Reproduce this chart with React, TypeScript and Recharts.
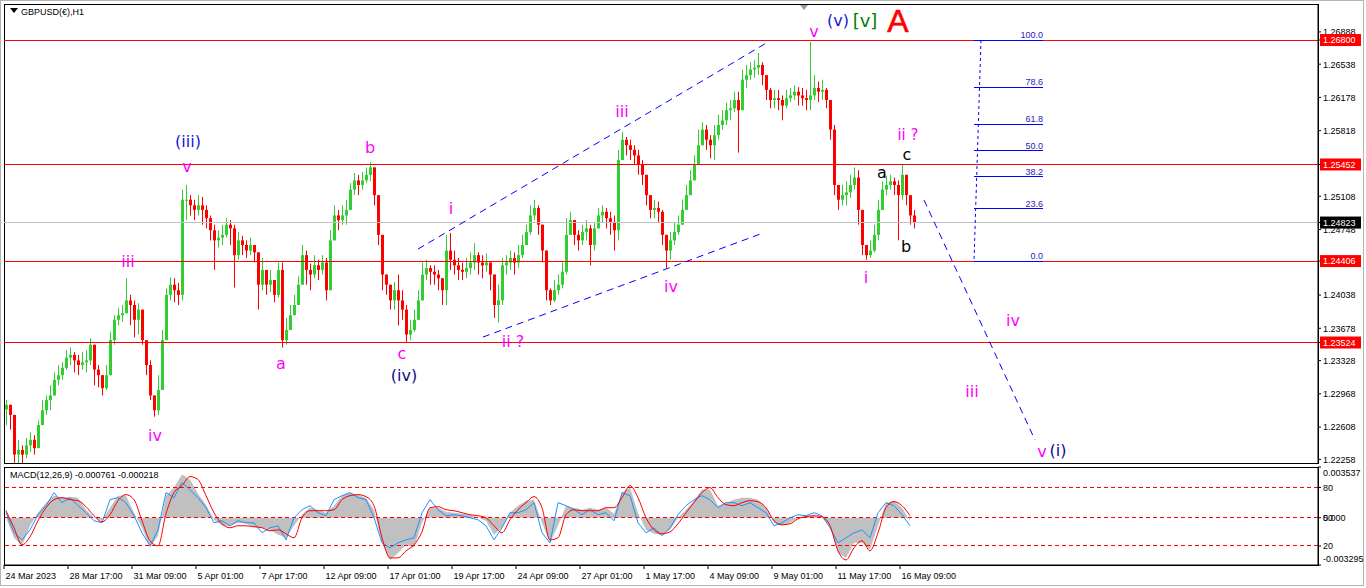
import React from "react";
import {
  Area,
  Bar,
  ComposedChart,
  Line,
  ReferenceArea,
  ReferenceDot,
  ReferenceLine,
  XAxis,
  YAxis,
} from "recharts";

const W = 1366;
const MAIN_H = 466;
const MACD_H = 122;
const AXIS_W = 48;
const SPAN = 1314; // hours shown across the plot (1 px per H1 bar)
const BAR_HOURS = 4; // each drawn candle groups 4 H1 bars
const MACD_STEP = 8;

const FONT = "'Liberation Sans', Arial, sans-serif";
const WAVE_FONT = "'DejaVu Sans', Verdana, sans-serif";
const BULL = "#32cd32";
const BEAR = "#ff0000";
const MAGENTA = "#ff00ff";
const BLUE = "#1818d0";
const NAVY = "#0c0c8c";
const FIB_BLUE = "#1c1cc0";

const PRICE_MIN = 1.22219;
const PRICE_MAX = 1.2719;

const FIRST_OPEN = 1.228;
const closes = [
  1.2285, 1.2274, 1.2231, 1.2236, 1.2231, 1.2241, 1.2247, 1.2238, 1.2263, 1.2279,
  1.229, 1.2295, 1.2312, 1.2317, 1.2325, 1.2336, 1.2339, 1.2333, 1.2328, 1.2331,
  1.2333, 1.235, 1.2323, 1.2317, 1.2303, 1.2317, 1.2355, 1.2377, 1.2382, 1.2384,
  1.2398, 1.2393, 1.2377, 1.2388, 1.2355, 1.2328, 1.2295, 1.2279, 1.2301, 1.2355,
  1.2404, 1.2415, 1.2409, 1.2404, 1.2507, 1.2507, 1.2501, 1.2496, 1.2501, 1.2496,
  1.2487, 1.2474, 1.2463, 1.2466, 1.2469, 1.248, 1.2476, 1.2447, 1.2463, 1.2458,
  1.2452, 1.2458, 1.245, 1.2415, 1.2431, 1.2415, 1.242, 1.2404, 1.2431, 1.2355,
  1.2366, 1.2382, 1.2393, 1.2415, 1.2447, 1.2431, 1.2426, 1.2436, 1.2431, 1.2439,
  1.2409, 1.2463, 1.249, 1.2485, 1.249, 1.2496, 1.2518, 1.2528, 1.2523, 1.2528,
  1.2534, 1.2542, 1.2512, 1.2469, 1.2426, 1.2415, 1.2398, 1.2409, 1.2398, 1.2388,
  1.2361, 1.2366, 1.2377, 1.2398, 1.2426, 1.2433, 1.2429, 1.2426, 1.2422, 1.2409,
  1.2452, 1.2442, 1.2436, 1.2431, 1.2429, 1.2433, 1.2439, 1.2447, 1.2439, 1.2436,
  1.2439, 1.2426, 1.2393, 1.2398, 1.2436, 1.2439, 1.2444, 1.2439, 1.2447, 1.2458,
  1.2472, 1.249, 1.2498, 1.248, 1.2452, 1.2409, 1.2398, 1.2409, 1.2415, 1.2429,
  1.2469, 1.2485, 1.2469, 1.2463, 1.2472, 1.2476, 1.2458, 1.2476, 1.249, 1.2494,
  1.2487, 1.2483, 1.2474, 1.255, 1.2572, 1.2566, 1.2561, 1.2555, 1.2545, 1.2534,
  1.2512, 1.2496, 1.2498, 1.2494, 1.2469, 1.2452, 1.2463, 1.2472, 1.248, 1.2496,
  1.2512, 1.2528, 1.2545, 1.2566, 1.2583, 1.2572, 1.2566, 1.2577, 1.2588, 1.2593,
  1.2604, 1.2606, 1.2615, 1.2604, 1.2637, 1.2642, 1.2648, 1.265, 1.2653, 1.2642,
  1.2626, 1.2615, 1.2617, 1.2615, 1.2609, 1.2617, 1.262, 1.2624, 1.262, 1.2617,
  1.2615, 1.262, 1.2628, 1.2624, 1.2626, 1.2615, 1.2583, 1.2523, 1.2507, 1.2512,
  1.2515, 1.2523, 1.2531, 1.2496, 1.2458, 1.2447, 1.2452, 1.2469, 1.2496, 1.2518,
  1.2523, 1.2527, 1.2523, 1.2512, 1.2534, 1.2512, 1.249, 1.2482,
];
const highs = [
  1.229, 1.2279, 1.2274, 1.2247, 1.2241, 1.2249, 1.2255, 1.2252, 1.2268, 1.229,
  1.2295, 1.2306, 1.232, 1.2328, 1.2331, 1.2344, 1.2347, 1.2342, 1.2339, 1.2342,
  1.2344, 1.2357, 1.235, 1.2328, 1.2314, 1.2328, 1.2364, 1.2382, 1.239, 1.2393,
  1.2422, 1.2404, 1.2398, 1.2395, 1.2382, 1.2355, 1.2333, 1.2295, 1.2317, 1.2366,
  1.2411, 1.2423, 1.2422, 1.2417, 1.2518, 1.2523, 1.2512, 1.2507, 1.2512, 1.251,
  1.2501, 1.249, 1.248, 1.2474, 1.248, 1.2487, 1.2485, 1.248, 1.2472, 1.2468,
  1.2463, 1.2466, 1.2458, 1.2447, 1.2444, 1.2431, 1.2431, 1.2415, 1.2439, 1.2439,
  1.2379, 1.2393, 1.2404, 1.2424, 1.2458, 1.2452, 1.2438, 1.2447, 1.2442, 1.2447,
  1.2444, 1.2474, 1.2501, 1.2496, 1.2501, 1.2507, 1.2525, 1.2536, 1.2534, 1.2537,
  1.2542, 1.2548, 1.2539, 1.2512, 1.2469, 1.2422, 1.2415, 1.2418, 1.2426, 1.2409,
  1.2393, 1.2377, 1.2388, 1.2409, 1.2439, 1.2442, 1.2436, 1.2436, 1.2431, 1.242,
  1.2469, 1.2471, 1.2452, 1.2444, 1.2439, 1.2444, 1.245, 1.246, 1.245, 1.2447,
  1.2449, 1.2439, 1.2415, 1.2415, 1.2444, 1.2447, 1.2452, 1.245, 1.2458, 1.2469,
  1.248, 1.2501, 1.2507, 1.2501, 1.248, 1.2447, 1.2411, 1.242, 1.2426, 1.2439,
  1.2487, 1.2494, 1.2483, 1.2474, 1.248, 1.2485, 1.248, 1.2483, 1.2498, 1.2501,
  1.2498, 1.2494, 1.249, 1.2561, 1.258, 1.2575, 1.2572, 1.2566, 1.2561, 1.255,
  1.2528, 1.2512, 1.2507, 1.2505, 1.2496, 1.2469, 1.2472, 1.2483, 1.249, 1.2507,
  1.2523, 1.2539, 1.2555, 1.2583, 1.2591, 1.2588, 1.2577, 1.2588, 1.2599, 1.2604,
  1.2612, 1.2615, 1.2624, 1.2624, 1.2648, 1.2653, 1.2656, 1.2658, 1.2666, 1.2656,
  1.2639, 1.2628, 1.2626, 1.2626, 1.262, 1.2626, 1.2628, 1.2631, 1.2629, 1.2628,
  1.2626, 1.2678, 1.2642, 1.2635, 1.2637, 1.2628, 1.2615, 1.2588, 1.2523, 1.2523,
  1.2527, 1.2534, 1.2542, 1.2539, 1.249, 1.2458, 1.2463, 1.248, 1.2507, 1.2527,
  1.2533, 1.2534, 1.2531, 1.2528, 1.2545, 1.2534, 1.2512, 1.2496,
];
const lows = [
  1.2263, 1.2258, 1.2222, 1.2222, 1.2222, 1.2227, 1.2234, 1.2231, 1.2241, 1.2263,
  1.2274, 1.2279, 1.2295, 1.2306, 1.2312, 1.2323, 1.2328, 1.232, 1.2317, 1.2323,
  1.232, 1.2328, 1.2306, 1.2304, 1.2295, 1.2301, 1.2317, 1.235, 1.2371, 1.2375,
  1.2388, 1.2371, 1.2358, 1.2361, 1.235, 1.2317, 1.229, 1.2272, 1.2274, 1.2301,
  1.2355, 1.2398, 1.2396, 1.2393, 1.2398, 1.2485, 1.249, 1.2485, 1.249, 1.248,
  1.2476, 1.2463, 1.2431, 1.2455, 1.2458, 1.2466, 1.2458, 1.2412, 1.2442, 1.2447,
  1.2444, 1.2447, 1.2439, 1.2388, 1.2409, 1.2404, 1.2407, 1.2396, 1.2401, 1.2347,
  1.235, 1.2366, 1.2382, 1.2393, 1.2415, 1.2415, 1.2409, 1.2422, 1.242, 1.2426,
  1.2398, 1.242, 1.2463, 1.2474, 1.248, 1.248, 1.2496, 1.2512, 1.2512, 1.2518,
  1.2525, 1.2527, 1.2501, 1.2458, 1.2409, 1.2404, 1.2388, 1.2388, 1.2371, 1.2377,
  1.2353, 1.2355, 1.2364, 1.2382, 1.2404, 1.242, 1.2415, 1.2415, 1.2409, 1.2393,
  1.2393, 1.2431, 1.2426, 1.242, 1.242, 1.2422, 1.2426, 1.2431, 1.2426, 1.2422,
  1.2429, 1.2409, 1.2379, 1.2374, 1.2393, 1.2426, 1.2431, 1.2426, 1.2433, 1.2444,
  1.2458, 1.2469, 1.2485, 1.2469, 1.2439, 1.2398, 1.2393, 1.2396, 1.2404, 1.2411,
  1.2426, 1.2469, 1.2458, 1.2452, 1.2458, 1.2463, 1.2436, 1.2452, 1.2476, 1.2483,
  1.2476, 1.2469, 1.2452, 1.2463, 1.255, 1.2555, 1.255, 1.2545, 1.2534, 1.2523,
  1.2501, 1.2487, 1.2487, 1.2483, 1.2458, 1.2433, 1.2442, 1.2458, 1.2469, 1.2483,
  1.2496, 1.2512, 1.2528, 1.2545, 1.2566, 1.2561, 1.2552, 1.255, 1.2572, 1.2583,
  1.2588, 1.2593, 1.2602, 1.2558, 1.2609, 1.2628, 1.2637, 1.2639, 1.2642, 1.2631,
  1.2615, 1.2606, 1.2606, 1.2604, 1.2593, 1.2606, 1.2613, 1.2615, 1.2609, 1.2609,
  1.2604, 1.2604, 1.2615, 1.2613, 1.2615, 1.2606, 1.2572, 1.2512, 1.2496, 1.2501,
  1.2501, 1.2509, 1.2518, 1.248, 1.2447, 1.2442, 1.2444, 1.245, 1.2463, 1.2496,
  1.2512, 1.2518, 1.2512, 1.2463, 1.2507, 1.2501, 1.248, 1.2476,
];

// MACD values in points (1 point = 0.00001)
const macdHist = [
  0, -140, -196, -56, 35, 105, 154, 140, 147, 140,
  56, 0, -21, 70, 154, 154, 35, -70, -210, -126,
  154, 210, 301, 266, 168, 91, -14, -56, -56, -35,
  -42, -63, -70, -84, -119, -140, -56, 21, 70, 56,
  35, 84, 154, 175, 161, 140, 56, -175, -294, -245,
  -189, -210, -35, 70, 70, 42, 35, 28, 21, 0,
  -21, -119, -70, 35, 84, 119, 126, -35, -175, -56,
  84, 70, 56, 70, 56, 70, 28, 175, 210, 35,
  -84, -112, -119, -84, 0, 56, 119, 196, 196, 84,
  105, 126, 140, 140, 126, 70, -35, -56, -35, 0,
  14, 14, 0, -56, -245, -280, -175, -175, -224, -56,
  105, 119, 70, -21,
];
const macdSignal = [
  49, -70, -189, -133, -21, 70, 126, 140, 126, 119,
  77, 14, -28, 21, 119, 161, 126, -21, -161, -196,
  28, 175, 224, 287, 266, 154, 35, -42, -70, -56,
  -56, -63, -70, -91, -84, -112, -140, 0, 49, 49,
  49, 56, 126, 154, 161, 147, 84, -140, -280, -280,
  -231, -189, -98, 70, 77, 56, 49, 35, 21, 14,
  0, -56, -105, -14, 56, 105, 147, 70, -154, -140,
  21, 56, 49, 49, 49, 70, 70, 140, 224, 140,
  0, -84, -112, -98, -42, 35, 105, 175, 210, 140,
  91, 84, 105, 119, 112, 70, -21, -49, -42, -7,
  7, 14, 7, -56, -231, -294, -210, -161, -231, -105,
  70, 112, 84, 14,
];
const macdFast = [
  35, -105, -154, -84, 21, 84, 175, 105, 140, 84,
  35, -21, -35, 126, 140, 105, 14, -105, -196, -84,
  175, 140, 245, 196, 140, 70, -35, -21, -56, -21,
  -35, -35, -105, -70, -56, -154, 0, 56, 84, 35,
  14, 126, 154, 175, 140, 126, 0, -175, -210, -175,
  -154, -140, 35, 126, 56, 14, 21, 14, 0, -14,
  -56, -154, -70, 35, 35, 56, 105, -105, -175, 105,
  84, 56, 21, 56, 21, 35, -21, 175, 154, -35,
  -105, -70, -126, -70, 21, 84, 126, 154, 126, 70,
  105, 105, 84, 105, 70, 35, -56, -35, 0, 21,
  14, 35, 14, -70, -175, -140, -105, -84, -140, 35,
  105, 84, 21, -56,
];
const MACD_MAX = 353.7;
const MACD_MIN = -329.5;
const macdLevels = [211, 0, -197];
const macdLevelNames = ["80", "50", "20"];

const priceTicks = [
  1.26888, 1.26538, 1.26178, 1.25818, 1.25108, 1.24748,
  1.24038, 1.23678, 1.23328, 1.22968, 1.22608, 1.22258,
];
const levels = [1.268, 1.25452, 1.24406, 1.23524];
const lastPrice = 1.24823;

const timeTicks = [0, 64, 128, 192, 256, 320, 384, 448, 512, 576, 640, 704, 768, 832, 896];
const timeLabels = [
  "24 Mar 2023", "28 Mar 17:00", "31 Mar 09:00", "5 Apr 01:00", "7 Apr 17:00",
  "12 Apr 09:00", "17 Apr 01:00", "19 Apr 17:00", "24 Apr 09:00", "27 Apr 01:00",
  "1 May 17:00", "4 May 09:00", "9 May 01:00", "11 May 17:00", "16 May 09:00",
];

// hand drawn objects (hour, price)
const channelUpper = [{ x: 414, y: 1.24536 }, { x: 764, y: 1.26778 }];
const channelLower = [{ x: 479, y: 1.23583 }, { x: 759, y: 1.2471 }];
const projection = [{ x: 920, y: 1.25067 }, { x: 1031, y: 1.22468 }];
const FIB_LOW = 1.24406;
const FIB_HIGH = 1.268;
const fibRatios = [0, 23.6, 38.2, 50, 61.8, 78.6, 100];
const fibFrom = 970;
const fibTo = 1039;
const fibTop = 977;

const waves = [
  { t: "(iii)", x: 184, y: 1.25706, c: BLUE, s: 16 },
  { t: "v", x: 183, y: 1.25435, c: MAGENTA, s: 16 },
  { t: "iii", x: 124, y: 1.24406, c: MAGENTA, s: 16 },
  { t: "iv", x: 151, y: 1.22521, c: MAGENTA, s: 16 },
  { t: "a", x: 277, y: 1.23301, c: MAGENTA, s: 16 },
  { t: "b", x: 366, y: 1.25641, c: MAGENTA, s: 16 },
  { t: "c", x: 398, y: 1.2341, c: MAGENTA, s: 16 },
  { t: "(iv)", x: 400, y: 1.23171, c: NAVY, s: 16 },
  { t: "i", x: 447, y: 1.2498, c: MAGENTA, s: 16 },
  { t: "ii ?", x: 509, y: 1.2354, c: MAGENTA, s: 16 },
  { t: "iii", x: 618, y: 1.26031, c: MAGENTA, s: 16 },
  { t: "iv", x: 667, y: 1.24135, c: MAGENTA, s: 16 },
  { t: "v", x: 810, y: 1.26887, c: MAGENTA, s: 16 },
  { t: "(v)", x: 834, y: 1.27006, c: BLUE, s: 16 },
  { t: "[v]", x: 861, y: 1.27006, c: "#008000", s: 18 },
  { t: "ii ?", x: 904, y: 1.25775, c: MAGENTA, s: 15 },
  { t: "c", x: 903, y: 1.25565, c: "#000000", s: 16 },
  { t: "a", x: 878, y: 1.2537, c: "#000000", s: 16 },
  { t: "b", x: 902, y: 1.24569, c: "#000000", s: 16 },
  { t: "i", x: 862, y: 1.24233, c: MAGENTA, s: 16 },
  { t: "iv", x: 1009, y: 1.23767, c: MAGENTA, s: 16 },
  { t: "iii", x: 968, y: 1.22998, c: MAGENTA, s: 16 },
  { t: "v", x: 1038, y: 1.22348, c: MAGENTA, s: 16 },
  { t: "(i)", x: 1054, y: 1.22359, c: NAVY, s: 16 },
];

const candles = closes.map((c, i) => {
  const o = i === 0 ? FIRST_OPEN : closes[i - 1];
  return {
    x: i * BAR_HOURS + 2,
    o,
    c,
    range: [Math.min(lows[i], o, c), Math.max(highs[i], o, c)],
  };
});

const macdData = macdHist.map((h, k) => ({
  x: k * MACD_STEP + 2,
  hist: h,
  signal: macdSignal[k],
  fast: macdFast[k],
}));

function Candle(props: any) {
  const { x, y, width, height, payload } = props;
  if (!payload) return null;
  const [lo, hi] = payload.range;
  const top = Math.min(y, y + height);
  const h = Math.abs(height);
  const k = hi > lo ? h / (hi - lo) : 0;
  const cx = Math.round(x + width / 2) + 0.5;
  const bTop = top + (hi - Math.max(payload.o, payload.c)) * k;
  const bBot = top + (hi - Math.min(payload.o, payload.c)) * k;
  const col = payload.c >= payload.o ? BULL : BEAR;
  return (
    <g>
      <line x1={cx} x2={cx} y1={top} y2={top + Math.max(h, 1)} stroke={col} strokeWidth={1} />
      <rect x={cx - 1.5} y={bTop} width={3} height={Math.max(1, bBot - bTop)} fill={col} />
    </g>
  );
}

function PriceTick(props: any) {
  const { x, y, payload } = props;
  const v = payload.value;
  const label = v.toFixed(5);
  const boxed = levels.includes(v) || v === lastPrice;
  if (boxed) {
    return (
      <g>
        <rect x={x - 3} y={y - 6} width={41} height={12} fill={v === lastPrice ? "#000" : "#ff0000"} />
        <text x={x} y={y + 3.3} fill="#fff" fontSize={9} fontFamily={FONT}>{label}</text>
      </g>
    );
  }
  return <text x={x} y={y + 3.3} fill="#000" fontSize={9} fontFamily={FONT}>{label}</text>;
}

function MacdTick(props: any) {
  const { x, y, payload } = props;
  const v = payload.value;
  const t = (s: string, dy: number) => (
    <text x={x} y={y + dy} fill="#000" fontSize={9} fontFamily={FONT}>{s}</text>
  );
  if (v === MACD_MAX) return t((v / 1e5).toFixed(6), 9.3);
  if (v === MACD_MIN) return t((v / 1e5).toFixed(6), -2.7);
  const i = macdLevels.indexOf(v);
  return (
    <g>
      {v === 0 && t("0.000", 3.3)}
      {t(macdLevelNames[i], 3.3)}
    </g>
  );
}

function TimeTick(props: any) {
  const { x, y, payload } = props;
  const i = timeTicks.indexOf(payload.value);
  return (
    <text x={x + 1.5} y={y + 7.5} fill="#000" fontSize={9} fontFamily={FONT}>{timeLabels[i]}</text>
  );
}

const waveShape = (w: any) => (p: any) => (
  <text x={p.cx} y={p.cy} textAnchor="middle" dominantBaseline="central" fill={w.c} fontSize={w.s} fontFamily={WAVE_FONT}>
    {w.t}
  </text>
);

export default function App() {
  return (
    <div style={{ position: "absolute", left: 0, top: 0, width: W, height: 588, background: "#fff", overflow: "hidden" }}>
      <div style={{ position: "absolute", left: 0, top: 0, width: 1364, height: 586, border: "1px solid #b4b4b4", boxSizing: "border-box" }} />
      <div style={{ position: "absolute", left: 0, top: 0 }}>
        <ComposedChart width={W} height={MAIN_H} data={candles} margin={{ top: 4, right: 0, bottom: 3, left: 4 }}>
          <XAxis dataKey="x" type="number" domain={[0, SPAN]} allowDataOverflow hide />
          <YAxis
            orientation="right"
            type="number"
            domain={[PRICE_MIN, PRICE_MAX]}
            allowDataOverflow
            width={AXIS_W}
            ticks={[...priceTicks, ...levels, lastPrice]}
            interval={0}
            tick={PriceTick}
            tickSize={3}
            tickMargin={2}
            axisLine={{ stroke: "#000" }}
            tickLine={{ stroke: "#000" }}
          />
          <ReferenceArea x1={0} x2={SPAN} y1={PRICE_MIN} y2={PRICE_MAX} fill="none" stroke="#000" shapeRendering="crispEdges" />
          <ReferenceLine y={lastPrice} stroke="#c0c0c0" shapeRendering="crispEdges" />
          {levels.map((v) => (
            <ReferenceLine key={v} y={v} stroke="#ff0000" shapeRendering="crispEdges" />
          ))}
          <Bar dataKey="range" barSize={4} shape={(p: any) => <Candle {...p} />} isAnimationActive={false} />
          <ReferenceLine segment={channelUpper} stroke="#0000ff" strokeDasharray="7 5" />
          <ReferenceLine segment={channelLower} stroke="#0000ff" strokeDasharray="7 5" />
          <ReferenceLine segment={projection} stroke="#0000ff" strokeDasharray="7 5" />
          <ReferenceLine
            segment={[{ x: fibTop, y: FIB_HIGH }, { x: fibFrom, y: FIB_LOW }]}
            stroke="#0000ff"
            strokeDasharray="3 3"
          />
          {fibRatios.map((r) => (
            <ReferenceLine
              key={r}
              segment={[
                { x: fibFrom, y: FIB_LOW + ((FIB_HIGH - FIB_LOW) * r) / 100 },
                { x: fibTo, y: FIB_LOW + ((FIB_HIGH - FIB_LOW) * r) / 100 },
              ]}
              stroke="#0000ff"
              shapeRendering="crispEdges"
            />
          ))}
          {fibRatios.map((r) => (
            <ReferenceDot
              key={"f" + r}
              x={fibTo}
              y={FIB_LOW + ((FIB_HIGH - FIB_LOW) * r) / 100}
              r={0}
              ifOverflow="visible"
              shape={(p: any) => (
                <text x={p.cx} y={p.cy - 2} textAnchor="end" fill={FIB_BLUE} fontSize={9} fontFamily={FONT}>
                  {r.toFixed(1)}
                </text>
              )}
            />
          ))}
          {waves.map((w, i) => (
            <ReferenceDot key={"w" + i} x={w.x} y={w.y} r={0} ifOverflow="visible" shape={waveShape(w)} />
          ))}
          <ReferenceDot
            x={894}
            y={1.27006}
            r={0}
            ifOverflow="visible"
            shape={(p: any) => (
              <text x={p.cx} y={p.cy} textAnchor="middle" dominantBaseline="central" fill="#ff0000" fontSize={32} fontFamily={FONT} stroke="#ff0000" strokeWidth={0.6}>
                A
              </text>
            )}
          />
        </ComposedChart>
      </div>
      <div style={{ position: "absolute", left: 0, top: MAIN_H }}>
        <ComposedChart width={W} height={MACD_H} data={macdData} margin={{ top: 1, right: 0, bottom: 0, left: 4 }}>
          <XAxis
            dataKey="x"
            type="number"
            domain={[0, SPAN]}
            allowDataOverflow
            ticks={timeTicks}
            interval={0}
            height={23}
            tick={TimeTick}
            tickSize={4}
            tickMargin={2}
            axisLine={{ stroke: "#000" }}
            tickLine={{ stroke: "#000" }}
          />
          <YAxis
            orientation="right"
            type="number"
            domain={[MACD_MIN, MACD_MAX]}
            allowDataOverflow
            width={AXIS_W}
            ticks={[MACD_MAX, ...macdLevels, MACD_MIN]}
            interval={0}
            tick={MacdTick}
            tickSize={3}
            tickMargin={2}
            axisLine={{ stroke: "#000" }}
            tickLine={{ stroke: "#000" }}
          />
          <ReferenceArea x1={0} x2={SPAN} y1={MACD_MIN} y2={MACD_MAX} fill="none" stroke="#000" shapeRendering="crispEdges" />
          <Area dataKey="hist" type="linear" baseValue={0} fill="#c0c0c0" fillOpacity={1} stroke="none" isAnimationActive={false} />
          {macdLevels.map((v) => (
            <ReferenceLine key={v} y={v} stroke="#ff0000" strokeDasharray="4 3" shapeRendering="crispEdges" />
          ))}
          <Line dataKey="fast" type="linear" stroke="#1e90ff" strokeWidth={1} dot={false} isAnimationActive={false} />
          <Line dataKey="signal" type="monotone" stroke="#ff0000" strokeWidth={1} dot={false} isAnimationActive={false} />
        </ComposedChart>
      </div>
      <div style={{ position: "absolute", left: 10, top: 8, width: 0, height: 0, borderLeft: "4px solid transparent", borderRight: "4px solid transparent", borderTop: "5px solid #000" }} />
      <div style={{ position: "absolute", left: 21, top: 7, font: `9px ${FONT}`, color: "#000", whiteSpace: "nowrap" }}>GBPUSD(€),H1</div>
      <div style={{ position: "absolute", left: 800, top: 5, width: 0, height: 0, borderLeft: "4px solid transparent", borderRight: "4px solid transparent", borderTop: "5px solid #999" }} />
      <div style={{ position: "absolute", left: 10, top: 470, font: `9px ${FONT}`, color: "#000", whiteSpace: "nowrap" }}>
        MACD(12,26,9) -0.000761 -0.000218
      </div>
    </div>
  );
}
